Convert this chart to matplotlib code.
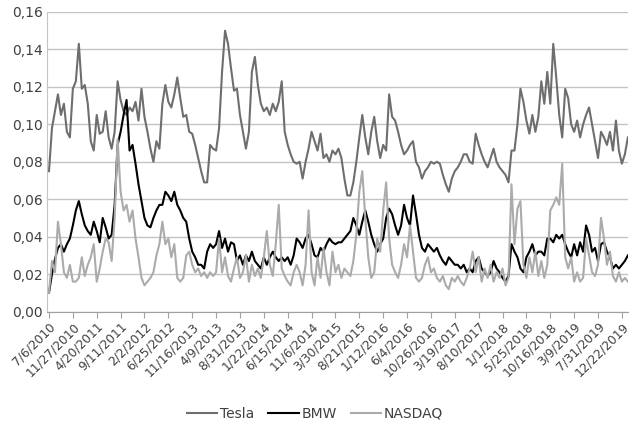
import numpy as np
import matplotlib
matplotlib.use("Agg")
import matplotlib.pyplot as plt

# volatility values, one reading every 18 days starting 7/6/2010
tesla = [0.075, 0.098, 0.107, 0.116, 0.105, 0.111, 0.096, 0.093, 0.119, 0.123, 0.143, 0.119, 0.121, 0.111,
         0.091, 0.086, 0.105, 0.095, 0.096, 0.107, 0.093, 0.087, 0.096, 0.123, 0.113, 0.107, 0.105, 0.109,
         0.107, 0.112, 0.102, 0.119, 0.104, 0.096, 0.087, 0.080, 0.091, 0.087, 0.111, 0.121, 0.112, 0.109,
         0.116, 0.125, 0.114, 0.104, 0.105, 0.096, 0.095, 0.089, 0.082, 0.075, 0.069, 0.069, 0.089, 0.087,
         0.086, 0.098, 0.128, 0.150, 0.143, 0.130, 0.118, 0.119, 0.105, 0.096, 0.087, 0.096, 0.128, 0.136,
         0.121, 0.111, 0.107, 0.109, 0.105, 0.111, 0.107, 0.112, 0.123, 0.096, 0.089, 0.084, 0.080, 0.079,
         0.080, 0.071, 0.080, 0.087, 0.096, 0.091, 0.086, 0.095, 0.082, 0.084, 0.080, 0.086, 0.084, 0.087,
         0.082, 0.071, 0.062, 0.062, 0.069, 0.080, 0.093, 0.105, 0.093, 0.084, 0.096, 0.104, 0.091, 0.082,
         0.089, 0.086, 0.116, 0.104, 0.102, 0.096, 0.089, 0.084, 0.086, 0.089, 0.091, 0.080, 0.077, 0.071,
         0.075, 0.077, 0.080, 0.079, 0.080, 0.079, 0.073, 0.068, 0.064, 0.071, 0.075, 0.077, 0.080, 0.084,
         0.084, 0.080, 0.079, 0.095, 0.089, 0.084, 0.080, 0.077, 0.082, 0.087, 0.080, 0.077, 0.075, 0.073,
         0.069, 0.086, 0.086, 0.100, 0.119, 0.112, 0.102, 0.095, 0.105, 0.096, 0.104, 0.123, 0.111, 0.128,
         0.111, 0.143, 0.125, 0.105, 0.093, 0.119, 0.114, 0.100, 0.096, 0.102, 0.093, 0.100, 0.105, 0.109,
         0.100, 0.091, 0.082, 0.096, 0.093, 0.089, 0.096, 0.086, 0.102, 0.086, 0.079, 0.084, 0.093]

bmw = [0.010, 0.020, 0.028, 0.034, 0.036, 0.032, 0.036, 0.039, 0.046, 0.054, 0.059, 0.052, 0.046, 0.043,
       0.041, 0.048, 0.043, 0.037, 0.050, 0.045, 0.039, 0.041, 0.057, 0.089, 0.096, 0.105, 0.113, 0.086,
       0.089, 0.079, 0.068, 0.059, 0.050, 0.046, 0.045, 0.050, 0.054, 0.057, 0.057, 0.064, 0.062, 0.059,
       0.064, 0.057, 0.054, 0.050, 0.048, 0.039, 0.032, 0.029, 0.025, 0.025, 0.023, 0.032, 0.036, 0.034,
       0.036, 0.043, 0.034, 0.039, 0.032, 0.037, 0.036, 0.027, 0.030, 0.025, 0.030, 0.027, 0.032, 0.027,
       0.025, 0.023, 0.029, 0.025, 0.029, 0.032, 0.029, 0.027, 0.029, 0.027, 0.029, 0.025, 0.030, 0.039,
       0.037, 0.034, 0.039, 0.041, 0.036, 0.030, 0.029, 0.034, 0.032, 0.036, 0.039, 0.037, 0.036, 0.037,
       0.037, 0.039, 0.041, 0.043, 0.050, 0.046, 0.041, 0.048, 0.054, 0.048, 0.041, 0.036, 0.032, 0.036,
       0.039, 0.050, 0.055, 0.052, 0.046, 0.041, 0.046, 0.057, 0.050, 0.046, 0.062, 0.052, 0.041, 0.034,
       0.032, 0.036, 0.034, 0.032, 0.034, 0.030, 0.027, 0.025, 0.029, 0.027, 0.025, 0.025, 0.023, 0.025,
       0.021, 0.023, 0.021, 0.027, 0.029, 0.023, 0.021, 0.019, 0.021, 0.027, 0.023, 0.021, 0.018, 0.016,
       0.019, 0.036, 0.032, 0.029, 0.023, 0.021, 0.029, 0.032, 0.036, 0.030, 0.032, 0.032, 0.030, 0.039,
       0.039, 0.037, 0.041, 0.039, 0.041, 0.036, 0.032, 0.029, 0.036, 0.030, 0.037, 0.032, 0.046, 0.041,
       0.032, 0.034, 0.027, 0.036, 0.037, 0.032, 0.029, 0.023, 0.025, 0.023, 0.025, 0.027, 0.030]

nasdaq = [0.010, 0.027, 0.021, 0.048, 0.036, 0.021, 0.018, 0.025, 0.016, 0.016, 0.018, 0.029, 0.019, 0.025,
          0.029, 0.036, 0.016, 0.023, 0.032, 0.039, 0.037, 0.027, 0.050, 0.092, 0.064, 0.054, 0.057, 0.048,
          0.054, 0.039, 0.029, 0.018, 0.014, 0.016, 0.018, 0.021, 0.030, 0.036, 0.048, 0.036, 0.039, 0.029,
          0.036, 0.018, 0.016, 0.018, 0.030, 0.032, 0.025, 0.021, 0.023, 0.019, 0.021, 0.018, 0.021, 0.019,
          0.021, 0.039, 0.021, 0.029, 0.019, 0.016, 0.023, 0.029, 0.018, 0.021, 0.030, 0.016, 0.025, 0.019,
          0.023, 0.018, 0.029, 0.043, 0.025, 0.019, 0.036, 0.057, 0.023, 0.019, 0.016, 0.014, 0.021, 0.025,
          0.021, 0.014, 0.025, 0.054, 0.021, 0.014, 0.029, 0.018, 0.034, 0.021, 0.014, 0.032, 0.021, 0.025,
          0.018, 0.023, 0.021, 0.019, 0.027, 0.041, 0.064, 0.075, 0.050, 0.029, 0.018, 0.021, 0.039, 0.032,
          0.054, 0.069, 0.039, 0.025, 0.021, 0.018, 0.025, 0.036, 0.029, 0.046, 0.032, 0.018, 0.016, 0.018,
          0.025, 0.029, 0.021, 0.023, 0.018, 0.016, 0.019, 0.014, 0.012, 0.018, 0.016, 0.019, 0.016, 0.014,
          0.018, 0.023, 0.032, 0.021, 0.029, 0.016, 0.023, 0.018, 0.025, 0.016, 0.021, 0.018, 0.023, 0.014,
          0.018, 0.068, 0.036, 0.055, 0.059, 0.025, 0.018, 0.029, 0.021, 0.032, 0.019, 0.027, 0.018, 0.025,
          0.054, 0.057, 0.061, 0.057, 0.079, 0.029, 0.023, 0.029, 0.016, 0.021, 0.016, 0.018, 0.039, 0.030,
          0.021, 0.019, 0.025, 0.050, 0.039, 0.025, 0.032, 0.019, 0.016, 0.021, 0.016, 0.018, 0.016]

tick_labels = ["7/6/2010", "11/27/2010", "4/20/2011", "9/11/2011", "2/2/2012", "6/25/2012",
               "11/16/2013", "4/9/2013", "8/31/2013", "1/22/2014", "6/15/2014", "11/6/2014",
               "3/30/2015", "8/21/2015", "1/12/2016", "6/4/2016", "10/26/2016", "3/19/2017",
               "8/10/2017", "1/1/2018", "5/25/2018", "10/16/2018", "3/9/2019", "7/31/2019",
               "12/22/2019"]

step = 18       # days between readings
tick_step = 144  # days between axis labels

plt.rcParams['font.family'] = ['DejaVu Sans']
txt = '#404040'
grid = '#c4c4c4'

fig = plt.figure(figsize=(6.3, 4.28), dpi=100)
ax = fig.add_axes([0.0746, 0.272, 0.922, 0.700])

days = np.arange(len(tesla)) * step
ax.plot(days, tesla, color='#6e6e6e', lw=1.5, label='Tesla')
ax.plot(days, bmw, color='#000000', lw=1.5, label='BMW')
ax.plot(days, nasdaq, color='#ababab', lw=1.5, label='NASDAQ')

ax.set_ylim(0, 0.16)
ax.set_xlim(-12, days[-1])
yt = np.arange(0, 0.161, 0.02)
ax.set_yticks(yt)
ax.set_yticklabels([('%.2f' % v).replace('.', ',') for v in yt], fontsize=10, color=txt)
ax.set_xticks(np.arange(len(tick_labels)) * tick_step)
ax.set_xticklabels(tick_labels, rotation=45, ha='right', va='top', rotation_mode='anchor',
                   fontsize=8.8, color=txt)

ax.grid(axis='y', color=grid, lw=1)
ax.set_axisbelow(True)
for s in ['top', 'right']:
    ax.spines[s].set_visible(False)
ax.spines['left'].set_color(grid)
ax.spines['bottom'].set_color('#a0a0a0')
ax.tick_params(axis='y', length=0, pad=3)
ax.tick_params(axis='x', length=4, color='#a0a0a0', pad=2)

fig.legend(loc='lower center', bbox_to_anchor=(0.5, -0.012), ncol=3, frameon=False,
           fontsize=10, handlelength=2.2, columnspacing=1.0, handletextpad=0.2,
           labelcolor=txt)

fig.savefig('out.png', dpi=100)
